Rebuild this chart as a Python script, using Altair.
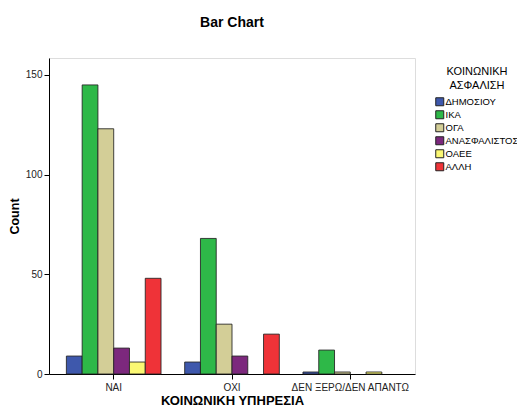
import altair as alt
import pandas as pd

groups = ["ΝΑΙ", "ΟΧΙ", "ΔΕΝ ΞΕΡΩ/ΔΕΝ ΑΠΑΝΤΩ"]
insurance = ["ΔΗΜΟΣΙΟΥ", "ΙΚΑ", "ΟΓΑ", "ΑΝΑΣΦΑΛΙΣΤΟΣ", "ΟΑΕΕ", "ΑΛΛΗ"]
colors = ["#3E58AC", "#2EB848", "#D3CE97", "#7C287D", "#FBF873", "#EF3338"]
counts_nai = [9, 145, 123, 13, 6, 48]
counts_oxi = [6, 68, 25, 9, 0, 20]
counts_dk = [1, 12, 1, 0, 1, 0]

rows = []
for g, vals in zip(groups, [counts_nai, counts_oxi, counts_dk]):
    for ins, v in zip(insurance, vals):
        rows.append({"group": g, "ins": ins, "count": v})
df = pd.DataFrame(rows)

FONT = "Liberation Sans"

bars = alt.Chart(df).transform_filter(alt.datum.count > 0).mark_bar(
    stroke="#222222", strokeWidth=1, strokeOpacity=0.85
).encode(
    x=alt.X("group:N", sort=groups,
            scale=alt.Scale(domain=groups, paddingInner=0.2, paddingOuter=0.147),
            axis=alt.Axis(title="ΚΟΙΝΩΝΙΚΗ ΥΠΗΡΕΣΙΑ", labelAngle=0, labelFontSize=10,
                          labelColor="#222222", labelPadding=3, tickSize=5,
                          tickColor="#000000", domainColor="#000000",
                          titleFontSize=13, titleFontWeight="bold", titlePadding=2,
                          titleColor="#000000")),
    xOffset=alt.XOffset("ins:N", sort=insurance, scale=alt.Scale(domain=insurance)),
    y=alt.Y("count:Q", scale=alt.Scale(domain=[0, 158.5], nice=False),
            axis=alt.Axis(title="Count", values=[0, 50, 100, 150], grid=False,
                          labelFontSize=10, labelColor="#222222", tickSize=5,
                          tickColor="#000000", domainColor="#000000", labelPadding=2,
                          titleFontSize=12.5, titleFontWeight="bold", titlePadding=4,
                          titleColor="#000000")),
    color=alt.Color("ins:N", sort=insurance,
                    scale=alt.Scale(domain=insurance, range=colors),
                    legend=alt.Legend(title=["ΚΟΙΝΩΝΙΚΗ", "ΑΣΦΑΛΙΣΗ"], orient="none",
                                      legendX=386, legendY=8, titleFontSize=11,
                                      titleLineHeight=14,
                                      titleFontWeight="normal", titleAlign="center",
                                      titleAnchor="middle", titleColor="#000000",
                                      titlePadding=6, labelFontSize=9.5,
                                      labelColor="#000000", labelOffset=1,
                                      symbolType="square", symbolSize=64,
                                      symbolStrokeColor="#222222", symbolStrokeWidth=1,
                                      rowPadding=0, symbolOpacity=1)),
)

chart = bars.properties(
    width=366, height=316,
    title=alt.TitleParams("Bar Chart", fontSize=14, fontWeight="bold", color="#000000",
                          anchor="middle", offset=28, font=FONT),
    autosize=alt.AutoSizeParams(type="none"),
    padding={"left": 41, "top": 50, "right": 102, "bottom": 33},
    background="#FFFFFF",
).configure_view(
    fill="#F0F0F0", stroke="#000000", strokeWidth=1
).configure(font=FONT)

chart.save("out.html", embed_options={"renderer": "svg", "actions": False})
